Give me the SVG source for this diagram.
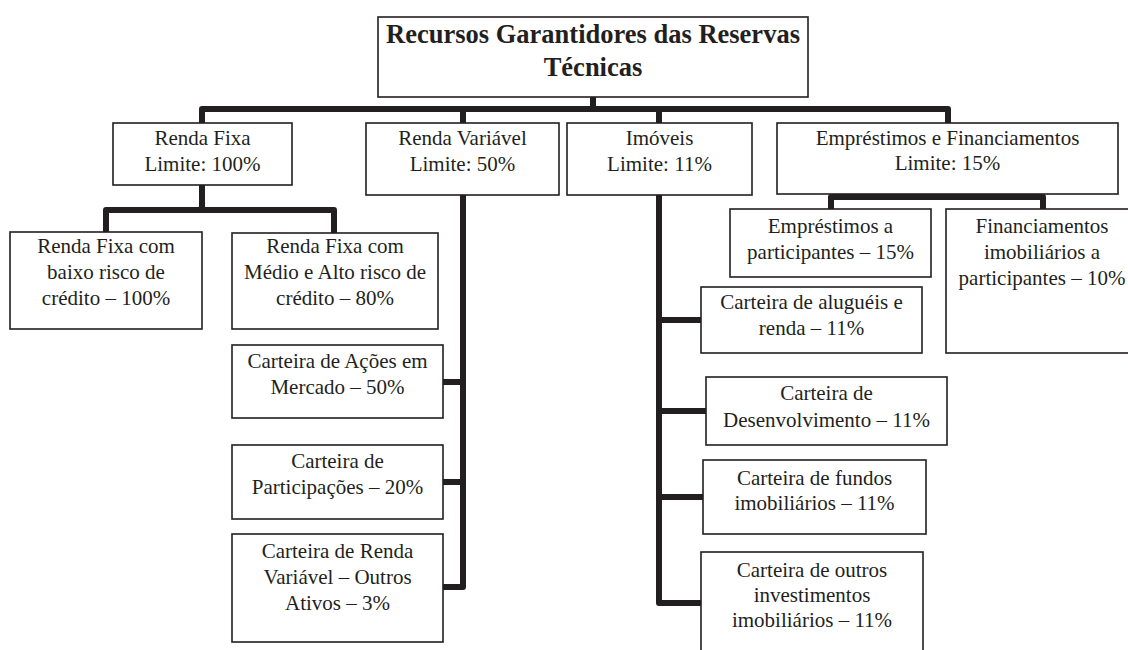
<svg xmlns="http://www.w3.org/2000/svg" width="1128" height="650" viewBox="0 0 1128 650">
<style>
.box{fill:#fff;stroke:#231f20;stroke-width:1.6}
.t{font-family:"Liberation Serif","Times New Roman",serif;font-size:21px;fill:#231f20;text-anchor:middle}
.title{font-family:"Liberation Serif","Times New Roman",serif;font-size:26.5px;font-weight:bold;fill:#231f20;text-anchor:middle}
.c{fill:none;stroke:#231f20;stroke-width:6;stroke-linejoin:round;stroke-linecap:butt}
</style>
<rect width="1128" height="650" fill="#fff"/>
<g id="connectors">
<path class="c" d="M593,97 V109"/>
<path class="c" d="M202,123 V109 H948 V123"/>
<path class="c" d="M463,109 V123"/>
<path class="c" d="M659,109 V123"/>
<path class="c" d="M202,185 V210"/>
<path class="c" d="M106,232 V210 H334 V233"/>
<path class="c" d="M463,195 V587 H443"/>
<path class="c" d="M463,382 H443"/>
<path class="c" d="M463,482 H443"/>
<path class="c" d="M659,195 V603 H701"/>
<path class="c" d="M659,320 H701"/>
<path class="c" d="M659,411 H706"/>
<path class="c" d="M659,497 H703"/>
<path class="c" d="M948,194 V197"/>
<path class="c" d="M831,209 V197 H1043 V209"/>
</g>
<g id="root">
<rect class="box" x="378" y="17" width="430" height="80"/>
<text class="title" x="593" y="43">Recursos Garantidores das Reservas</text>
<text class="title" x="593" y="76">Técnicas</text>
</g>
<g id="renda-fixa">
<rect class="box" x="113" y="123" width="179" height="62"/>
<text class="t" x="202.5" y="145">Renda Fixa</text>
<text class="t" x="202.5" y="171">Limite: 100%</text>
</g>
<g id="renda-variavel">
<rect class="box" x="366" y="123" width="193" height="72"/>
<text class="t" x="462.5" y="145">Renda Variável</text>
<text class="t" x="462.5" y="171">Limite: 50%</text>
</g>
<g id="imoveis">
<rect class="box" x="567" y="123" width="185" height="72"/>
<text class="t" x="659.5" y="145">Imóveis</text>
<text class="t" x="659.5" y="171">Limite: 11%</text>
</g>
<g id="emprestimos">
<rect class="box" x="777" y="123" width="341" height="71"/>
<text class="t" x="947.5" y="145">Empréstimos e Financiamentos</text>
<text class="t" x="947.5" y="170">Limite: 15%</text>
</g>
<g id="rf-baixo">
<rect class="box" x="10" y="232" width="192" height="97"/>
<text class="t" x="106" y="253">Renda Fixa com</text>
<text class="t" x="106" y="279">baixo risco de</text>
<text class="t" x="106" y="305">crédito – 100%</text>
</g>
<g id="rf-medio">
<rect class="box" x="232" y="233" width="206" height="96"/>
<text class="t" x="335" y="253">Renda Fixa com</text>
<text class="t" x="335" y="279">Médio e Alto risco de</text>
<text class="t" x="335" y="305">crédito – 80%</text>
</g>
<g id="acoes">
<rect class="box" x="232" y="345" width="211" height="73"/>
<text class="t" x="337.5" y="368">Carteira de Ações em</text>
<text class="t" x="337.5" y="394">Mercado – 50%</text>
</g>
<g id="participacoes">
<rect class="box" x="232" y="445" width="211" height="74"/>
<text class="t" x="337.5" y="468">Carteira de</text>
<text class="t" x="337.5" y="494">Participações – 20%</text>
</g>
<g id="rv-outros">
<rect class="box" x="232" y="534" width="211" height="108"/>
<text class="t" x="337.5" y="558">Carteira de Renda</text>
<text class="t" x="337.5" y="584">Variável – Outros</text>
<text class="t" x="337.5" y="610">Ativos – 3%</text>
</g>
<g id="emp-participantes">
<rect class="box" x="730" y="209" width="201" height="68"/>
<text class="t" x="830.5" y="233">Empréstimos a</text>
<text class="t" x="830.5" y="259">participantes – 15%</text>
</g>
<g id="fin-imobiliarios">
<rect class="box" x="946" y="209" width="192" height="144"/>
<text class="t" x="1042" y="233">Financiamentos</text>
<text class="t" x="1042" y="259">imobiliários a</text>
<text class="t" x="1042" y="285">participantes – 10%</text>
</g>
<g id="alugueis">
<rect class="box" x="701" y="287" width="221" height="66"/>
<text class="t" x="811.5" y="309">Carteira de aluguéis e</text>
<text class="t" x="811.5" y="335">renda – 11%</text>
</g>
<g id="desenvolvimento">
<rect class="box" x="706" y="377" width="241" height="68"/>
<text class="t" x="826.5" y="400">Carteira de</text>
<text class="t" x="826.5" y="427">Desenvolvimento – 11%</text>
</g>
<g id="fundos">
<rect class="box" x="703" y="460" width="223" height="74"/>
<text class="t" x="814.5" y="485">Carteira de fundos</text>
<text class="t" x="814.5" y="510">imobiliários – 11%</text>
</g>
<g id="outros-imob">
<rect class="box" x="701" y="552" width="222" height="110"/>
<text class="t" x="812" y="577">Carteira de outros</text>
<text class="t" x="812" y="602">investimentos</text>
<text class="t" x="812" y="627">imobiliários – 11%</text>
</g>
</svg>
